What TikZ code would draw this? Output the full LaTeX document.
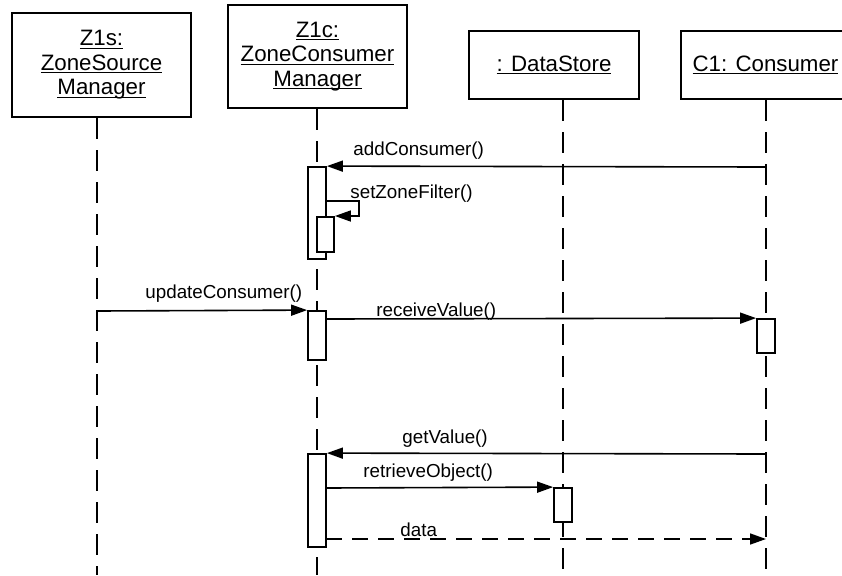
\documentclass[tikz,border=0pt]{standalone}
\usepackage{fontspec}
\setmainfont{Liberation Sans}
\usetikzlibrary{arrows.meta}
\newcommand{\uln}[1]{\setbox0\hbox{#1}\rlap{\rule[-1.5pt]{\wd0}{0.6pt}}\box0}

\tikzset{
  objbox/.style={draw, line width=1pt, fill=white, inner sep=0pt, align=center,
    font=\fontsize{11.15}{12.25}\selectfont},
  lifeline/.style={line width=1.1pt, dash pattern=on 10.5pt off 5.5pt},
  actbar/.style={draw, line width=0.9pt, fill=white, inner sep=0pt, minimum width=9pt},
  msg/.style={line width=0.8pt, -{Triangle[length=8pt,width=5.5pt]}},
  reply/.style={msg, dash pattern=on 8pt off 5pt},
  msglabel/.style={anchor=base west, inner sep=0pt, font=\fontsize{9.4}{11}\selectfont}
}

\begin{document}
\begin{tikzpicture}[x=0.5pt, y=-0.5pt]
        \useasboundingbox (0,0) rectangle (842,575);

        \node[objbox, minimum width=89.5pt, minimum height=52pt] (Z1s) at (101.5,65)
            {\uln{Z1s:}\\\uln{ZoneSource}\\\uln{Manager}};
        \node[objbox, minimum width=89.5pt, minimum height=51.5pt] (Z1c) at (317.5,56.5)
            {\uln{Z1c:}\\\uln{ZoneConsumer}\\\uln{Manager}};
        \node[objbox, minimum width=85pt, minimum height=34pt] (DS) at (554,65)
            {\uln{: DataStore}};
        \node[objbox, minimum width=84.5pt, minimum height=34pt] (C1) at (765.5,65)
            {\uln{C1: Consumer}};

        \coordinate (zsEnd) at (97,575);
        \coordinate (zcEnd) at (317,575);
        \coordinate (dsEnd) at (563,575);
        \coordinate (cEnd) at (766,575);

        \draw[lifeline] (Z1s.south -| zsEnd) -- (zsEnd);
        \draw[lifeline] (Z1c.south -| zcEnd) -- (zcEnd);
        \draw[lifeline] (DS.south -| dsEnd) -- (dsEnd);
        \draw[lifeline] (C1.south -| cEnd) -- (cEnd);

        \node[actbar, minimum height=46pt] (act1) at (317,213) {};
        \node[actbar, minimum width=8.5pt, minimum height=17.5pt] (act1b) at (325.5,234.5) {};
        \node[actbar, minimum height=24.5pt] (act2) at (317,335.5) {};
        \node[actbar, minimum height=17pt] (act3) at (766,336) {};
        \node[actbar, minimum height=46.5pt] (act4) at (317,500.5) {};
        \node[actbar, minimum height=17pt] (act5) at (563,505) {};

        \coordinate (addSrc) at (766,167);
        \coordinate (selfOut) at (326,201);
        \coordinate (selfTurn) at (359,216);
        \coordinate (updSrc) at (97,311);
        \coordinate (recvOut) at (326,319);
        \coordinate (getSrc) at (766,454);
        \coordinate (retrOut) at (326,488);
        \coordinate (dataOut) at (326,539);
        \coordinate (dataEnd) at (766,539);

        \draw[msg] (addSrc) -- (act1.north east);
        \draw[msg] (selfOut) -| (selfTurn) -- (act1b.north east |- selfTurn);
        \draw[msg] (updSrc) -- (act2.north west);
        \draw[msg] (recvOut) -- (act3.north west);
        \draw[msg] (getSrc) -- (act4.north east);
        \draw[msg] (retrOut) -- (act5.north west);
        \draw[reply] (dataOut) -- (dataEnd);

        \node[msglabel] (lAdd) at (353,155) {addConsumer()};
        \node[msglabel] (lSet) at (350,198) {setZoneFilter()};
        \node[msglabel] (lUpd) at (145,298) {updateConsumer()};
        \node[msglabel] (lRecv) at (376,316) {receiveValue()};
        \node[msglabel] (lGet) at (402,443) {getValue()};
        \node[msglabel] (lRetr) at (363,477) {retrieveObject()};
        \node[msglabel] (lData) at (400,536) {data};
    \end{tikzpicture}
\end{document}
